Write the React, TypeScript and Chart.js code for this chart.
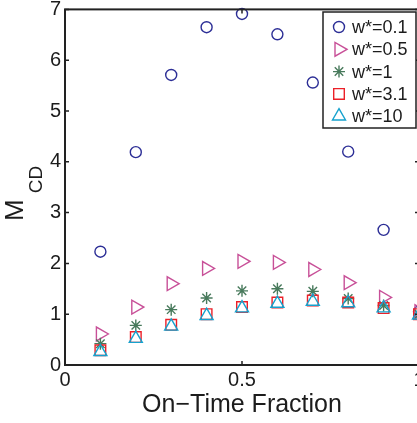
import React, { useEffect, useRef } from 'react';
import { Chart, registerables } from 'chart.js';

Chart.register(...registerables);

// ---- data ----
const onTimeFraction = [0.1, 0.2, 0.3, 0.4, 0.5, 0.6, 0.7, 0.8, 0.9, 1.0];
const mcdW01 = [2.23, 4.19, 5.71, 6.65, 6.91, 6.51, 5.56, 4.2, 2.66, 1.05];
const mcdW05 = [0.61, 1.14, 1.6, 1.9, 2.04, 2.02, 1.88, 1.62, 1.33, 1.05];
const mcdW1 = [0.42, 0.78, 1.09, 1.32, 1.46, 1.5, 1.45, 1.31, 1.17, 1.0];
const mcdW31 = [0.29, 0.55, 0.79, 1.0, 1.14, 1.23, 1.27, 1.23, 1.12, 1.0];
const mcdW10 = [0.26, 0.52, 0.76, 0.97, 1.12, 1.21, 1.25, 1.22, 1.12, 0.98];
const seriesLabels = ['w*=0.1', 'w*=0.5', 'w*=1', 'w*=3.1', 'w*=10'];
const xTickValues = [0, 0.5, 1];
const yTickValues = [0, 1, 2, 3, 4, 5, 6, 7];
const xTitle = 'On\u2212Time Fraction';
const yTitleMain = 'M';
const yTitleSub = 'CD';

// ---- styles ----
const FONT = '"Liberation Sans", Arial, Helvetica, sans-serif';
const TEXT = '#1c1c1c';
const COLORS = ['rgb(44,46,150)', 'rgb(200,80,152)', 'rgb(72,122,92)', 'rgb(236,32,40)', 'rgb(22,162,206)'];
const STYLES = [
  { style: 'circle', radius: 5.5, rotation: 0 },
  { style: 'triangle', radius: 8, rotation: 90 },
  { style: 'star', radius: 6, rotation: 0 },
  { style: 'rect', radius: 7.5, rotation: 0 },
  { style: 'triangle', radius: 7.5, rotation: 0 },
];
const seriesData = [mcdW01, mcdW05, mcdW1, mcdW31, mcdW10];

function drawMarker(ctx: CanvasRenderingContext2D, style: string, x: number, y: number, r: number, rotDeg: number) {
  ctx.beginPath();
  if (style === 'circle') {
    ctx.arc(x, y, r, 0, Math.PI * 2);
  } else if (style === 'triangle') {
    let rad = (rotDeg * Math.PI) / 180;
    ctx.moveTo(x + Math.sin(rad) * r, y - Math.cos(rad) * r);
    rad += (2 * Math.PI) / 3;
    ctx.lineTo(x + Math.sin(rad) * r, y - Math.cos(rad) * r);
    rad += (2 * Math.PI) / 3;
    ctx.lineTo(x + Math.sin(rad) * r, y - Math.cos(rad) * r);
    ctx.closePath();
  } else if (style === 'rect') {
    const s = Math.SQRT1_2 * r;
    ctx.rect(x - s, y - s, 2 * s, 2 * s);
  } else if (style === 'star') {
    for (let k = 0; k < 4; k++) {
      const a = (k * Math.PI) / 4;
      ctx.moveTo(x + Math.cos(a) * r, y + Math.sin(a) * r);
      ctx.lineTo(x - Math.cos(a) * r, y - Math.sin(a) * r);
    }
  }
  ctx.stroke();
}

const decorPlugin = {
  id: 'decor',
  afterDatasetsDraw(chart: any) {
    const ctx: CanvasRenderingContext2D = chart.ctx;
    const { left, right, top, bottom } = chart.chartArea;
    const xs = chart.scales.x;
    const ys = chart.scales.y;
    ctx.save();
    // box
    ctx.strokeStyle = '#222';
    ctx.lineWidth = 2;
    ctx.strokeRect(left, top, right - left, bottom - top);
    // inward ticks
    ctx.lineWidth = 1.5;
    ctx.beginPath();
    const tl = 4;
    xTickValues.forEach((v) => {
      const px = xs.getPixelForValue(v);
      ctx.moveTo(px, bottom);
      ctx.lineTo(px, bottom - tl);
      ctx.moveTo(px, top);
      ctx.lineTo(px, top + tl);
    });
    yTickValues.forEach((v) => {
      const py = ys.getPixelForValue(v);
      ctx.moveTo(left, py);
      ctx.lineTo(left + tl, py);
      ctx.moveTo(right, py);
      ctx.lineTo(right - tl, py);
    });
    ctx.stroke();

    // x title
    ctx.fillStyle = TEXT;
    ctx.font = `25px ${FONT}`;
    ctx.textAlign = 'center';
    ctx.textBaseline = 'alphabetic';
    ctx.fillText(xTitle, (left + right) / 2, 412);

    // y title with subscript
    ctx.save();
    ctx.translate(23, 221);
    ctx.rotate(-Math.PI / 2);
    ctx.textAlign = 'left';
    ctx.font = `26px ${FONT}`;
    ctx.fillText(yTitleMain, 0, 0);
    const mw = ctx.measureText(yTitleMain).width;
    ctx.font = `19px ${FONT}`;
    ctx.fillText(yTitleSub, mw + 6, 19);
    ctx.restore();

    // legend
    const lx = 323, ly = 12, lw = 93, lh = 116;
    ctx.fillStyle = '#fff';
    ctx.fillRect(lx, ly, lw, lh);
    ctx.strokeStyle = '#222';
    ctx.lineWidth = 1.5;
    ctx.strokeRect(lx, ly, lw, lh);
    ctx.font = `18px ${FONT}`;
    ctx.textAlign = 'left';
    ctx.textBaseline = 'middle';
    chart.data.datasets.forEach((ds: any, i: number) => {
      const cy = 27 + i * 22.3;
      ctx.strokeStyle = COLORS[i];
      ctx.lineWidth = 1.4;
      drawMarker(ctx, STYLES[i].style, 339, cy, STYLES[i].radius, STYLES[i].rotation);
      ctx.fillStyle = TEXT;
      ctx.fillText(ds.label, 352, cy + 1);
    });
    ctx.restore();
  },
};

export default function App() {
  const canvasRef = useRef<HTMLCanvasElement | null>(null);

  useEffect(() => {
    const canvas = canvasRef.current;
    if (!canvas) return;
    const datasets = seriesData.map((vals, i) => ({
      label: seriesLabels[i],
      data: onTimeFraction.map((x, j) => ({ x, y: vals[j] })),
      showLine: false,
      pointStyle: STYLES[i].style,
      pointRadius: STYLES[i].radius,
      pointRotation: STYLES[i].rotation,
      pointBorderWidth: 1.4,
      borderColor: COLORS[i],
      pointBorderColor: COLORS[i],
      backgroundColor: 'rgba(0,0,0,0)',
      pointBackgroundColor: 'rgba(0,0,0,0)',
      clip: false,
      order: seriesData.length - 1 - i,
    }));

    const tickFont = { family: FONT, size: 20 };
    const chart = new Chart(canvas, {
      type: 'scatter',
      data: { datasets },
      options: {
        responsive: false,
        animation: false,
        events: [],
        layout: { padding: { left: 0, top: 7, right: 21, bottom: 0 } },
        plugins: { legend: { display: false }, tooltip: { enabled: false } },
        scales: {
          x: {
            type: 'linear',
            min: 0,
            max: 1,
            grid: { display: false, drawTicks: false },
            border: { display: false },
            ticks: {
              padding: 3,
              font: tickFont,
              color: TEXT,
              maxRotation: 0,
              autoSkip: false,
              callback: (v: any) => String(v),
            },
            afterBuildTicks: (s: any) => {
              s.ticks = xTickValues.map((v) => ({ value: v }));
            },
            afterFit: (s: any) => {
              s.height = 58;
              s.paddingLeft = 0;
              s.paddingRight = 0;
            },
          },
          y: {
            type: 'linear',
            min: 0,
            max: 7,
            grid: { display: false, drawTicks: false },
            border: { display: false },
            ticks: {
              padding: 4,
              font: tickFont,
              color: TEXT,
              autoSkip: false,
              callback: (v: any) => String(v),
            },
            afterBuildTicks: (s: any) => {
              s.ticks = yTickValues.map((v) => ({ value: v }));
            },
            afterFit: (s: any) => {
              s.width = 65;
              s.paddingTop = 0;
              s.paddingBottom = 0;
            },
          },
        },
      },
      plugins: [decorPlugin],
    } as any);
    return () => chart.destroy();
  }, []);

  return (
    <div
      style={{
        position: 'fixed',
        left: 0,
        top: 0,
        width: 417,
        height: 423,
        overflow: 'hidden',
        background: '#fff',
      }}
    >
      <canvas ref={canvasRef} width={440} height={423} style={{ display: 'block' }} />
    </div>
  );
}
